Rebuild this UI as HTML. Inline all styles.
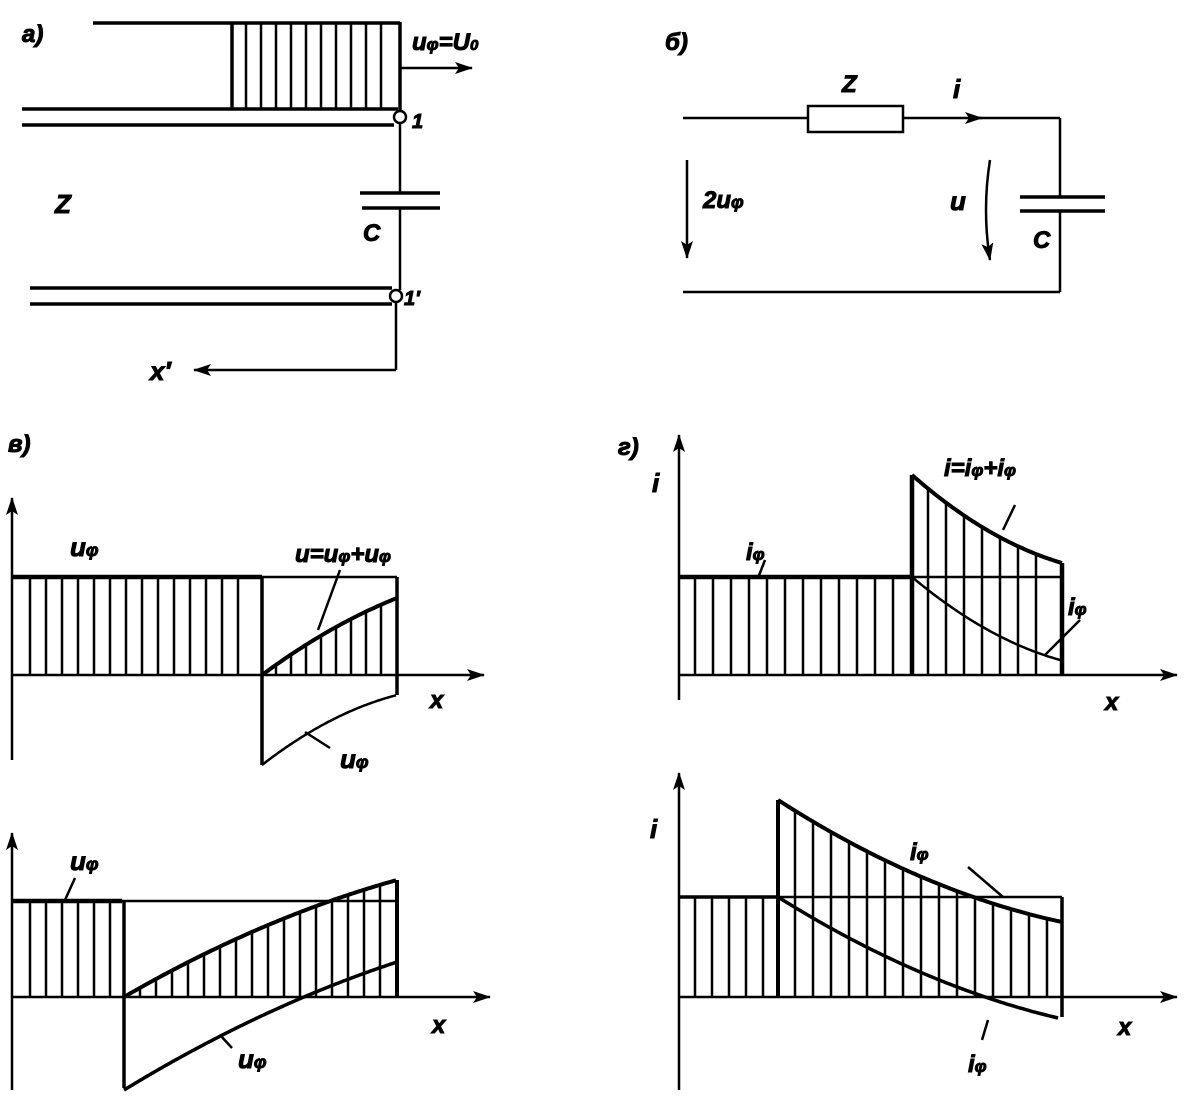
<!DOCTYPE html>
<html><head><meta charset="utf-8"><style>
html,body{margin:0;padding:0;background:#fff;}
svg{display:block;}
text{font-family:"Liberation Sans",sans-serif;font-style:italic;font-weight:bold;fill:#000;}
</style></head><body>
<svg id="s" width="1200" height="1108" viewBox="0 0 1200 1108" xmlns="http://www.w3.org/2000/svg" stroke="#000" fill="none" stroke-linecap="butt">
<defs>
<marker id="ar" markerWidth="18" markerHeight="12" refX="17" refY="6" orient="auto" markerUnits="userSpaceOnUse"><path d="M0,0 L18,6 L0,12 L4,6 Z" fill="#000" stroke="none"/></marker>
</defs>
<!-- Panel a -->
<g stroke-width="3.5">
<line x1="93" y1="23" x2="400" y2="23"/>
<line x1="232" y1="23" x2="232" y2="110"/>
<line x1="400" y1="22" x2="400" y2="110"/>
<line x1="22" y1="109" x2="398" y2="109"/>
<line x1="22" y1="125" x2="394" y2="125"/>
<line x1="30" y1="288" x2="392" y2="288"/>
<line x1="30" y1="304" x2="392" y2="304"/>
</g>
<g stroke-width="2.5">
<line x1="400" y1="68" x2="472" y2="68" marker-end="url(#ar)"/>
<line x1="400" y1="123" x2="400" y2="193"/>
<line x1="400" y1="208" x2="400" y2="290"/>
<line x1="396" y1="302" x2="396" y2="370"/>
<line x1="396" y1="370" x2="194" y2="370" marker-end="url(#ar)"/>
<circle cx="400" cy="117" r="6" fill="#fff"/>
<circle cx="396" cy="296" r="6" fill="#fff"/>
</g>
<line x1="360" y1="193" x2="440" y2="193" stroke-width="3.5"/>
<line x1="362" y1="208" x2="440" y2="208" stroke-width="3.5"/>
<g id="ha" stroke-width="2.5"></g>
<text x="22" y="42" font-size="24">a)</text>
<text x="412" y="50" font-size="24">u<tspan font-size="17">φ</tspan>=U<tspan font-size="15">0</tspan></text>
<text x="412" y="128" font-size="20">1</text>
<text x="404" y="305" font-size="20">1′</text>
<text x="363" y="241" font-size="24">C</text>
<text x="55" y="213" font-size="26">Z</text>
<text x="150" y="380" font-size="26">x′</text>

<!-- Panel b -->
<g stroke-width="2.5">
<line x1="683" y1="118" x2="808" y2="118"/>
<rect x="808" y="106" width="95" height="26"/>
<line x1="903" y1="118" x2="982" y2="118" marker-end="url(#ar)"/>
<line x1="975" y1="118" x2="1060" y2="118"/>
<line x1="1060" y1="118" x2="1060" y2="197"/>
<line x1="1060" y1="211" x2="1060" y2="292"/>
<line x1="683" y1="292" x2="1060" y2="292"/>
<line x1="687" y1="160" x2="687" y2="258" marker-end="url(#ar)"/>
<path d="M990,160 Q982,210 990,260" marker-end="url(#ar)"/>
</g>
<line x1="1020" y1="197" x2="1105" y2="197" stroke-width="3.5"/>
<line x1="1020" y1="211" x2="1105" y2="211" stroke-width="3.5"/>
<text x="665" y="50" font-size="24">б)</text>
<text x="842" y="92" font-size="24">Z</text>
<text x="953" y="98" font-size="26">i</text>
<text x="703" y="208" font-size="24">2u<tspan font-size="18">φ</tspan></text>
<text x="950" y="210" font-size="26">u</text>
<text x="1033" y="248" font-size="24">C</text>

<g id="plots"></g>
<text x="8" y="452" font-size="24">в)</text>
<text x="618" y="455" font-size="24">г)</text>
<text x="70" y="556" font-size="26">u<tspan font-size="18">φ</tspan></text>
<text x="295" y="562" font-size="24">u=u<tspan font-size="17">φ</tspan>+u<tspan font-size="17">φ</tspan></text>
<text x="430" y="708" font-size="24">x</text>
<text x="340" y="768" font-size="26">u<tspan font-size="18">φ</tspan></text>
<text x="70" y="870" font-size="26">u<tspan font-size="18">φ</tspan></text>
<text x="432" y="1033" font-size="24">x</text>
<text x="238" y="1068" font-size="26">u<tspan font-size="18">φ</tspan></text>
<text x="652" y="492" font-size="26">i</text>
<text x="944" y="476" font-size="24">i=i<tspan font-size="17">φ</tspan>+i<tspan font-size="17">φ</tspan></text>
<text x="746" y="560" font-size="24">i<tspan font-size="17">φ</tspan></text>
<text x="1068" y="615" font-size="24">i<tspan font-size="17">φ</tspan></text>
<text x="1105" y="710" font-size="24">x</text>
<text x="650" y="838" font-size="26">i</text>
<text x="910" y="860" font-size="24">i<tspan font-size="17">φ</tspan></text>
<text x="968" y="1072" font-size="24">i<tspan font-size="17">φ</tspan></text>
<text x="1118" y="1035" font-size="24">x</text>
</svg>
<script>
var NS="http://www.w3.org/2000/svg";
var P=document.getElementById('plots');
function L(x1,y1,x2,y2,w,m){var e=document.createElementNS(NS,'line');e.setAttribute('x1',x1);e.setAttribute('y1',y1);e.setAttribute('x2',x2);e.setAttribute('y2',y2);e.setAttribute('stroke-width',w||2.5);if(m)e.setAttribute('marker-end','url(#ar)');P.appendChild(e);}
function C(f,a,b,w){var d='';for(var x=a;x<=b+0.01;x+=2){d+=(d?'L':'M')+x+','+f(x).toFixed(1);}var e=document.createElementNS(NS,'path');e.setAttribute('d',d);e.setAttribute('stroke-width',w||2.5);P.appendChild(e);}
function H(a,b,step,top,bot){for(var x=a;x<=b+0.01;x+=step){L(x,top(x),x,bot(x),2.5);}}
function quad(x0,y0,x1,y1,k){return function(x){var t=(x-x0)/(x1-x0);return y0+(y1-y0)*(t*(1+k)-k*t*t);};}
var ha=document.getElementById('ha');
for(var x=246;x<=388;x+=15){var e=document.createElementNS(NS,'line');e.setAttribute('x1',x);e.setAttribute('y1',23);e.setAttribute('x2',x);e.setAttribute('y2',109);ha.appendChild(e);}
// в top
L(12,760,12,498,2.5,1);L(12,675,484,675,2.5,1);
L(12,577,262,577,4.5);L(262,577,397,577,2.5);
H(30,250,16,function(){return 577},function(){return 675});
L(262,577,262,765,3.5);
var u1=quad(262,675,397,598,0.3);C(u1,262,397,4);
H(276,390,15,u1,function(){return 675});
L(397,577,397,695,3.5);
var u2=quad(262,765,397,695,0.5);C(u2,262,397,2.5);
L(340,570,318,630,2.5);L(305,732,330,748,2.5);
// в bottom
L(12,1090,12,833,2.5,1);L(12,997,490,997,2.5,1);
L(12,901,122,901,4.5);L(122,901,397,901,2.5);
H(30,112,16,function(){return 901},function(){return 997});
L(124,901,124,1088,3.5);
var v1=quad(124,997,397,880,0.35);C(v1,124,397,4);
H(140,390,16,v1,function(){return 997});
L(397,880,397,997,4);
var v2=quad(124,1090,397,962,0.3);C(v2,124,397,3.5);
L(65,900,75,878,2.5);L(220,1035,232,1048,2.5);
// г top
L(679,700,679,435,2.5,1);L(679,675,1177,675,2.5,1);
L(679,577,912,577,4.5);L(912,577,1062,577,2.5);
H(695,900,18,function(){return 577},function(){return 675});
L(912,475,912,675,4.5);
var i1=quad(912,475,1062,563,0.5);C(i1,912,1062,4);
H(928,1050,18,i1,function(){return 675});
L(1062,563,1062,675,4.5);
var i2=quad(912,577,1060,660,0.5);C(i2,912,1060,2.5);
L(1015,505,1003,530,2.5);L(765,560,758,578,2.5);L(1080,620,1045,655,2.5);
// г bottom
L(679,1090,679,773,2.5,1);L(679,997,1177,997,2.5,1);
L(679,897,778,897,3.5);L(778,897,1062,897,2.5);
H(695,770,17,function(){return 897},function(){return 997});
L(778,800,778,997,4);
var j1=quad(778,800,1062,922,0.5);C(j1,778,1062,4);
H(795,1050,18,j1,function(){return 997});
L(1062,897,1062,1017,3.5);
var j2=quad(778,897,1058,1018,0.45);C(j2,778,1058,3.5);
L(968,867,1003,897,2.5);L(982,1040,988,1020,2.5);
</script>
</body></html>
